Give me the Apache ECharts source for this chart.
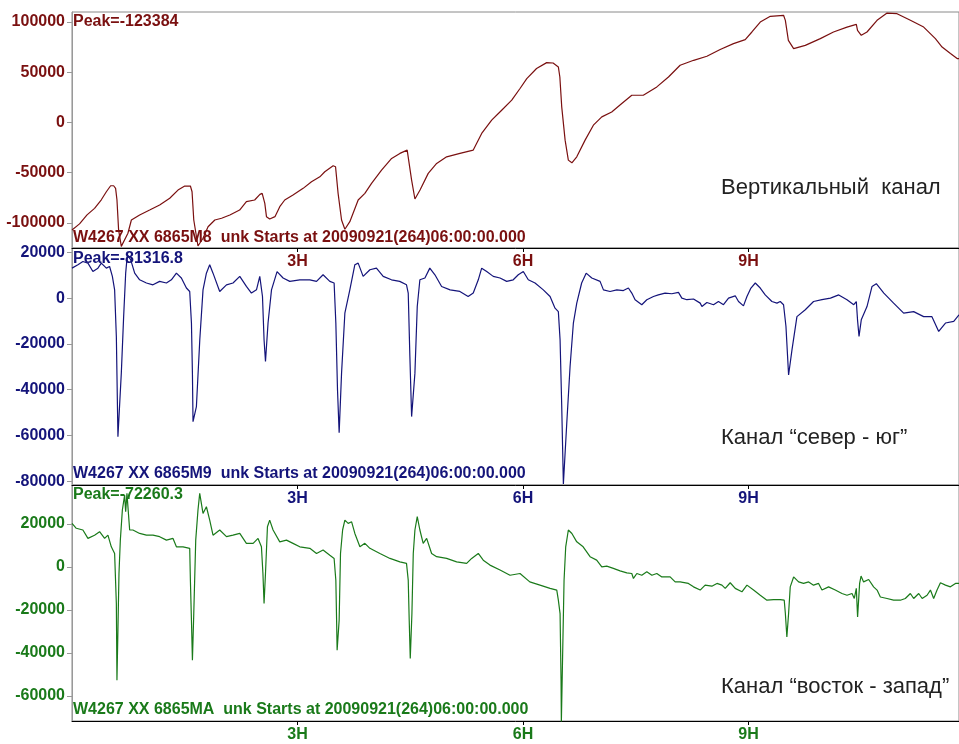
<!DOCTYPE html>
<html><head><meta charset="utf-8">
<script src="https://cdn.jsdelivr.net/npm/echarts@6/dist/echarts.min.js"></script>
<style>html,body{margin:0;padding:0;background:#fff}#c{width:959px;height:744px}</style>
</head><body><div id="c"></div>
<script>
// x values are hours after the start time, y values are counts
const hourTicks = [3, 6, 9];
const verticalTicks = [-100000, -50000, 0, 50000, 100000];
const northSouthTicks = [-80000, -60000, -40000, -20000, 0, 20000];
const eastWestTicks = [-60000, -40000, -20000, 0, 20000];

const vertical = [[0,-107000],[0.10,-101000],[0.20,-92000],[0.30,-85500],[0.39,-77000],[0.457,-69000],[0.514,-63000],[0.554,-63000],[0.58,-65600],[0.598,-77000],
[0.62,-107000],[0.656,-123400],[0.744,-110300],[0.79,-97100],[0.90,-92100],[1.033,-87200],[1.166,-82200],[1.30,-75500],[1.41,-67300],[1.50,-63300],
[1.575,-63300],[1.597,-69000],[1.62,-97100],[1.676,-123000],[1.743,-115300],[1.81,-103800],[1.90,-97100],[1.99,-95400],[2.10,-92100],[2.23,-87200],
[2.32,-78900],[2.43,-77200],[2.50,-71600],[2.53,-70600],[2.565,-80500],[2.587,-93800],[2.63,-96100],[2.70,-93800],[2.764,-83900],[2.83,-77200],
[2.94,-72300],[3.075,-65600],[3.186,-59000],[3.297,-54100],[3.363,-49100],[3.474,-43100],[3.506,-44100],[3.54,-70600],[3.586,-97100],[3.63,-106300],
[3.696,-98800],[3.807,-77200],[3.896,-70600],[3.985,-60600],[4.118,-47400],[4.252,-35800],[4.362,-30800],[4.459,-27500],[4.482,-29200],[4.518,-57400],
[4.562,-76200],[4.63,-67300],[4.739,-50700],[4.851,-40800],[4.984,-34200],[5.161,-30800],[5.338,-27500],[5.45,-10900],[5.583,2300],[5.716,12200],
[5.85,22200],[5.96,33800],[6.05,43700],[6.18,53700],[6.315,59600],[6.40,59200],[6.47,55300],[6.49,45300],[6.515,15500],[6.56,-17600],
[6.603,-37500],[6.65,-40200],[6.715,-34200],[6.826,-17600],[6.936,-2700],[7.048,5600],[7.18,10500],[7.314,18900],[7.447,27100],[7.60,27100],
[7.78,35400],[7.935,45300],[8.09,57000],[8.27,61900],[8.446,65900],[8.623,72600],[8.80,78500],[8.956,82500],[9.045,90100],[9.156,100000],
[9.29,105700],[9.466,106700],[9.49,101700],[9.53,81800],[9.60,73600],[9.755,76800],[9.955,83500],[10.13,90100],[10.31,95000],[10.434,97700],
[10.45,91700],[10.50,86800],[10.576,90100],[10.71,101700],[10.843,108900],[10.976,108300],[11.153,101700],[11.33,95000],[11.486,83500],[11.575,75100],
[11.686,68600],[11.775,63600],[11.8,63600]];

const northSouth = [[0,13100],[0.079,14600],[0.145,16000],[0.212,15300],[0.278,11600],[0.345,13100],[0.39,15300],[0.457,13100],[0.50,13800],[0.537,9500],
[0.567,3600],[0.59,-16800],[0.611,-60600],[0.656,-32800],[0.687,-8100],[0.714,10900],[0.736,18900],[0.78,16800],[0.834,10900],[0.90,8000],
[0.99,6600],[1.077,5800],[1.166,7300],[1.256,6600],[1.322,8000],[1.389,10900],[1.455,8800],[1.522,4400],[1.566,2900],[1.589,-10900],
[1.602,-32800],[1.61,-54000],[1.655,-47400],[1.70,-18200],[1.743,3600],[1.788,10900],[1.832,14600],[1.876,10900],[1.965,2900],[2.055,5800],
[2.142,6600],[2.232,9500],[2.32,5100],[2.387,2200],[2.454,3600],[2.498,9500],[2.534,700],[2.555,-18200],[2.574,-27700],[2.608,-10900],
[2.654,3600],[2.728,11600],[2.808,8800],[2.897,7300],[3.03,8000],[3.164,8000],[3.253,7300],[3.34,10200],[3.43,7300],[3.487,6600],
[3.51,-10900],[3.532,-40100],[3.554,-58800],[3.586,-32800],[3.63,-6600],[3.696,3600],[3.763,14600],[3.807,15300],[3.873,9500],[3.963,12400],
[4.05,13100],[4.14,9500],[4.25,8000],[4.36,7300],[4.45,5800],[4.473,2200],[4.495,-25600],[4.518,-51800],[4.562,-32800],[4.593,-3700],
[4.628,8000],[4.695,8800],[4.76,13100],[4.828,10200],[4.917,5100],[5.03,3600],[5.16,2900],[5.27,700],[5.338,2200],[5.405,8000],
[5.45,13100],[5.517,11600],[5.604,9500],[5.694,8800],[5.783,7300],[5.87,8000],[5.937,10200],[6.004,11600],[6.07,8000],[6.16,6600],
[6.27,3600],[6.36,700],[6.426,-4400],[6.47,-5900],[6.493,-18200],[6.515,-47400],[6.537,-81300],[6.582,-54700],[6.626,-29900],[6.67,-10900],
[6.715,-2200],[6.78,6600],[6.84,10900],[6.915,8800],[7.025,7300],[7.07,3600],[7.158,2900],[7.248,3600],[7.335,3300],[7.402,4400],
[7.447,2200],[7.491,-700],[7.58,-2900],[7.647,-700],[7.735,700],[7.8,1400],[7.89,2200],[7.98,1900],[8.068,2500],[8.113,0],
[8.18,-700],[8.268,-400],[8.357,-2200],[8.38,-3700],[8.446,-1900],[8.534,-2900],[8.6,-1500],[8.667,-2900],[8.734,0],[8.823,1000],
[8.867,-1500],[8.933,-3400],[8.979,700],[9.032,4400],[9.09,6600],[9.156,4400],[9.222,1400],[9.311,-1500],[9.378,-2200],[9.422,-1500],
[9.466,-2900],[9.498,-12400],[9.533,-33600],[9.578,-22600],[9.644,-8100],[9.755,-5100],[9.865,-1500],[9.977,-700],[10.09,0],[10.2,1400],
[10.31,-700],[10.4,-2900],[10.434,-1500],[10.45,-9500],[10.47,-16800],[10.5,-9500],[10.576,-3700],[10.643,5100],[10.7,6300],[10.8,2200],
[10.93,-2200],[11.064,-6600],[11.197,-5900],[11.33,-8100],[11.44,-8100],[11.53,-14600],[11.62,-10900],[11.73,-10200],[11.8,-7300]];

const eastWest = [[0,20200],[0.057,17900],[0.145,17100],[0.212,13200],[0.30,14700],[0.367,16300],[0.434,13200],[0.478,14700],[0.523,9300],[0.567,6200],
[0.59,-17000],[0.598,-52700],[0.611,-29400],[0.625,-3100],[0.643,12400],[0.67,26400],[0.70,33300],[0.714,25600],[0.731,34100],[0.767,17100],
[0.81,17100],[0.90,15500],[0.99,14700],[1.077,14700],[1.166,14000],[1.256,12400],[1.344,13200],[1.389,9300],[1.477,9300],[1.566,8600],
[1.575,-6200],[1.589,-24800],[1.602,-43400],[1.62,-21700],[1.646,12400],[1.676,26400],[1.699,34100],[1.743,24800],[1.788,27900],[1.832,21700],
[1.876,14700],[1.965,17100],[2.055,14000],[2.142,14700],[2.232,15500],[2.32,10900],[2.41,10900],[2.475,13200],[2.52,9300],[2.54,-3100],
[2.555,-17000],[2.574,-3100],[2.60,18600],[2.63,21700],[2.675,17100],[2.764,11600],[2.853,12400],[2.94,10900],[3.03,9300],[3.164,8600],
[3.253,6200],[3.34,7800],[3.43,5400],[3.487,3900],[3.51,-6200],[3.52,-24800],[3.527,-38700],[3.554,-24800],[3.572,6200],[3.6,17100],
[3.63,21700],[3.674,20200],[3.72,20900],[3.763,15500],[3.83,9300],[3.896,10900],[3.963,8600],[4.096,6200],[4.23,3900],[4.362,2300],
[4.45,1600],[4.473,-6200],[4.486,-24800],[4.50,-42600],[4.522,-21700],[4.54,6200],[4.562,17100],[4.593,23300],[4.628,17100],[4.672,10900],
[4.718,13200],[4.784,6200],[4.851,4700],[4.984,3900],[5.117,2300],[5.25,1600],[5.317,3900],[5.405,6200],[5.471,3100],[5.56,800],
[5.694,-1500],[5.827,-3900],[5.96,-3100],[6.09,-7000],[6.226,-8500],[6.36,-10000],[6.449,-10800],[6.47,-15500],[6.493,-21700],[6.506,-52700],
[6.51,-72200],[6.529,-37200],[6.546,-6200],[6.568,9300],[6.603,17100],[6.65,15500],[6.715,11600],[6.80,9300],[6.892,4700],[6.98,3100],
[7.048,0],[7.114,300],[7.202,-700],[7.291,-1900],[7.381,-2800],[7.447,-3100],[7.469,-5400],[7.514,-3100],[7.58,-3900],[7.647,-2300],
[7.714,-3900],[7.78,-3100],[7.847,-4700],[7.957,-4700],[8.024,-7000],[8.09,-7000],[8.2,-7700],[8.268,-9300],[8.357,-10800],[8.423,-8500],
[8.512,-9000],[8.58,-7700],[8.646,-8500],[8.69,-10000],[8.756,-7400],[8.823,-10000],[8.912,-11600],[8.979,-8500],[9.067,-10800],[9.156,-13200],
[9.245,-15500],[9.333,-15200],[9.422,-15200],[9.475,-15500],[9.49,-21700],[9.51,-32600],[9.533,-21700],[9.555,-9300],[9.6,-4700],[9.62,-3900],
[9.666,-7000],[9.732,-7700],[9.8,-7000],[9.865,-8500],[9.932,-7700],[9.977,-10800],[10.065,-9300],[10.154,-10800],[10.243,-12400],[10.31,-13200],
[10.377,-12400],[10.407,-14700],[10.434,-10000],[10.451,-23300],[10.478,-7700],[10.497,-4300],[10.531,-7000],[10.598,-5900],[10.664,-9300],[10.71,-10800],
[10.754,-14000],[10.843,-14700],[10.93,-15500],[11.02,-15500],[11.086,-14700],[11.153,-12400],[11.197,-14700],[11.264,-12400],[11.31,-14700],[11.375,-13200],
[11.42,-10800],[11.463,-14700],[11.508,-10800],[11.553,-7400],[11.62,-8500],[11.686,-9300],[11.753,-7700],[11.8,-7700]];

const peakLabels = ['Peak=-123384', 'Peak=-81316.8', 'Peak=-72260.3'];
const stationLabels = ['W4267 XX 6865M8  unk Starts at 20090921(264)06:00:00.000',
                       'W4267 XX 6865M9  unk Starts at 20090921(264)06:00:00.000',
                       'W4267 XX 6865MA  unk Starts at 20090921(264)06:00:00.000'];
const channelNames = ['Вертикальный  канал', 'Канал “север - юг”', 'Канал “восток - запад”'];

const colors = ['#7a1010', '#14147a', '#1a7a1a'];
const seriesData = [vertical, northSouth, eastWest];
const yTicks = [verticalTicks, northSouthTicks, eastWestTicks];
const yRange = [[-125000, 110000], [-81700, 21900], [-71600, 38000]];
const gridTop = [12, 248, 485];
const gridH = [236, 237, 236];
const peakY = [22, 259, 495];
const stationY = [238, 474, 710];
const nameY = [188, 438, 687];

const FONT = '"Liberation Sans", Arial, sans-serif';
const chart = echarts.init(document.getElementById('c'), null, {renderer: 'canvas'});

const grids = [], xAxes = [], yAxes = [], series = [], graphics = [];
for (let i = 0; i < 3; i++) {
  grids.push({left: 72, top: gridTop[i], width: 887, height: gridH[i], show: true, borderColor: '#8a8a8a', borderWidth: 1, containLabel: false});
  xAxes.push({
    type: 'value', gridIndex: i, min: 0, max: 11.8,
    axisLine: {show: true, onZero: false, lineStyle: {color: '#000', width: 1}},
    axisTick: {show: true, customValues: hourTicks, length: 4, lineStyle: {color: '#000'}},
    axisLabel: {show: true, customValues: hourTicks, formatter: v => v + 'H', color: colors[i], fontWeight: 'bold', fontSize: 16, fontFamily: FONT, margin: 6},
    splitLine: {show: false}
  });
  yAxes.push({
    type: 'value', gridIndex: i, min: yRange[i][0], max: yRange[i][1],
    axisLine: {show: true, lineStyle: {color: '#999', width: 1}},
    axisTick: {show: true, customValues: yTicks[i], length: 5, lineStyle: {color: '#999'}},
    axisLabel: {show: true, customValues: yTicks[i], formatter: v => String(v), color: colors[i], fontWeight: 'bold', fontSize: 16, fontFamily: FONT, margin: 7},
    splitLine: {show: false}
  });
  series.push({
    type: 'line', xAxisIndex: i, yAxisIndex: i, data: seriesData[i],
    showSymbol: false, symbol: 'none', clip: true, animation: false,
    lineStyle: {color: colors[i], width: 1.2}, z: 3
  });
  graphics.push({type: 'text', x: 73, y: peakY[i], z: 1,
    style: {text: peakLabels[i], font: 'bold 16px ' + FONT, fill: colors[i], align: 'left', verticalAlign: 'middle'}});
  graphics.push({type: 'text', x: 73, y: stationY[i], z: 1,
    style: {text: stationLabels[i], font: 'bold 16px ' + FONT, fill: colors[i], align: 'left', verticalAlign: 'middle'}});
  graphics.push({type: 'text', x: 721, y: nameY[i], z: 1,
    style: {text: channelNames[i], font: '22px ' + FONT, fill: '#222', align: 'left', verticalAlign: 'middle'}});
}

chart.setOption({
  animation: false,
  backgroundColor: '#fff',
  grid: grids, xAxis: xAxes, yAxis: yAxes, series: series, graphic: graphics
});
</script>
</body></html>
